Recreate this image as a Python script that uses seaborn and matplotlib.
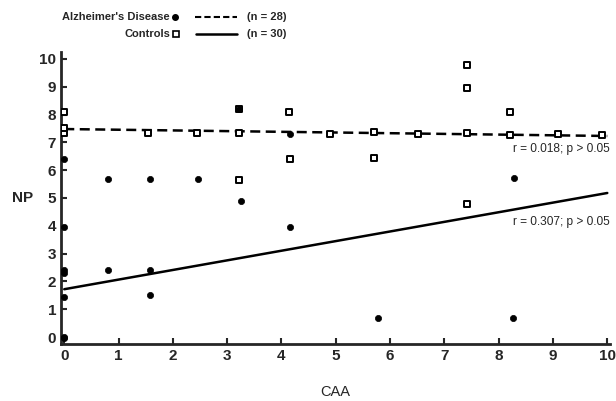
import matplotlib
matplotlib.use("Agg")
import matplotlib.pyplot as plt
import seaborn as sns
import pandas as pd
from matplotlib.lines import Line2D

# Alzheimer's Disease (filled dots)
ad_caa = [0, 0, 0, 0, 0, 0, 0, 0.8, 1.58, 2.47, 0.8, 1.58, 1.58, 3.22, 3.26, 4.15, 4.15, 5.78, 8.29, 8.27]
ad_np = [6.4, 3.95, 2.4, 2.3, 1.45, 0.0, -0.05, 5.68, 5.68, 5.68, 2.4, 2.42, 1.5, 8.2, 4.9, 7.3, 3.95, 0.68, 5.72, 0.68]

# Controls (open squares)
ct_caa = [0, 0, 0, 1.55, 2.45, 3.22, 3.22, 3.22, 4.13, 4.15, 4.9, 5.7, 5.7, 6.52,
          7.42, 7.42, 7.42, 7.42, 8.2, 8.2, 9.1, 9.9]
ct_np = [8.1, 7.35, 7.5, 7.35, 7.35, 8.2, 7.35, 5.65, 8.1, 6.4, 7.3, 7.37, 6.45, 7.3,
         9.8, 8.95, 7.35, 4.8, 8.1, 7.27, 7.3, 7.27]

# Regression lines (endpoints)
fit_x = [0, 10]
dashed_fit_y = [7.48, 7.23]
solid_fit_y = [1.72, 5.18]

x_ticks = list(range(0, 11))
y_ticks = list(range(0, 11))
annot_dashed = "r = 0.018; p > 0.05"
annot_solid = "r = 0.307; p > 0.05"

sns.set_style("ticks")
plt.rcParams["font.family"] = ["Liberation Sans", "DejaVu Sans"]

fig = plt.figure(figsize=(6.16, 4.01), dpi=100)
ax = fig.add_axes([61 / 616, 57 / 401, 549 / 616, 292 / 401])

ad_df = pd.DataFrame({"CAA": ad_caa, "NP": ad_np})
ct_df = pd.DataFrame({"CAA": ct_caa, "NP": ct_np})
fd = pd.DataFrame({"x": fit_x, "dashed": dashed_fit_y, "solid": solid_fit_y})

sns.lineplot(data=fd, x="x", y="dashed", ax=ax, color="black", lw=1.8,
             linestyle=(0, (4, 2.2)), zorder=2)
sns.lineplot(data=fd, x="x", y="solid", ax=ax, color="black", lw=1.8, zorder=2)
sns.scatterplot(data=ct_df, x="CAA", y="NP", ax=ax, marker="s", s=22,
                facecolor="white", edgecolor="black", linewidth=1.4, zorder=3)
sns.scatterplot(data=ad_df, x="CAA", y="NP", ax=ax, marker="o", s=20,
                color="black", edgecolor="black", linewidth=0.5, zorder=4)

ax.set_xlim(-0.06, 10.05)
ax.set_ylim(-0.25, 10.25)
ax.set_xticks(x_ticks)
ax.set_yticks(y_ticks)
ax.tick_params(direction="in", length=4, width=1.5, labelsize=11)
for lab in ax.get_xticklabels() + ax.get_yticklabels():
    lab.set_fontweight("bold")
for s in ["top", "right"]:
    ax.spines[s].set_visible(False)
for s in ["left", "bottom"]:
    ax.spines[s].set_linewidth(2)

ax.set_xlabel("CAA", fontsize=10.5, labelpad=16)
ax.set_ylabel("NP", fontsize=11, fontweight="bold", rotation=0, labelpad=12, va="center")

ax.text(10.05, 6.75, annot_dashed, ha="right", va="center", fontsize=8.6)
ax.text(10.05, 4.15, annot_solid, ha="right", va="center", fontsize=8.6)

# Legend at top (figure coordinates)
fs = 8
fig.text(170 / 616, 1 - 17 / 401, "Alzheimer's Disease", ha="right", va="center", fontsize=fs, fontweight="bold")
fig.add_artist(Line2D([175 / 616], [1 - 17 / 401], marker="o", ms=4, color="black", transform=fig.transFigure))
fig.add_artist(Line2D([195 / 616, 237 / 616], [1 - 17 / 401, 1 - 17 / 401], color="black", lw=1.5,
                      linestyle=(0, (3, 1.5)), transform=fig.transFigure))
fig.text(247 / 616, 1 - 17 / 401, "(n = 28)", ha="left", va="center", fontsize=fs, fontweight="bold")

fig.text(170 / 616, 1 - 34 / 401, "Controls", ha="right", va="center", fontsize=fs, fontweight="bold")
fig.add_artist(Line2D([176 / 616], [1 - 34 / 401], marker="s", ms=4.5, mfc="white", mec="black", mew=1.2,
                      color="black", transform=fig.transFigure))
fig.add_artist(Line2D([196 / 616, 237 / 616], [1 - 34 / 401, 1 - 34 / 401], color="black", lw=1.8,
                      transform=fig.transFigure))
fig.text(247 / 616, 1 - 34 / 401, "(n = 30)", ha="left", va="center", fontsize=fs, fontweight="bold")

fig.savefig("out.png", dpi=100)
